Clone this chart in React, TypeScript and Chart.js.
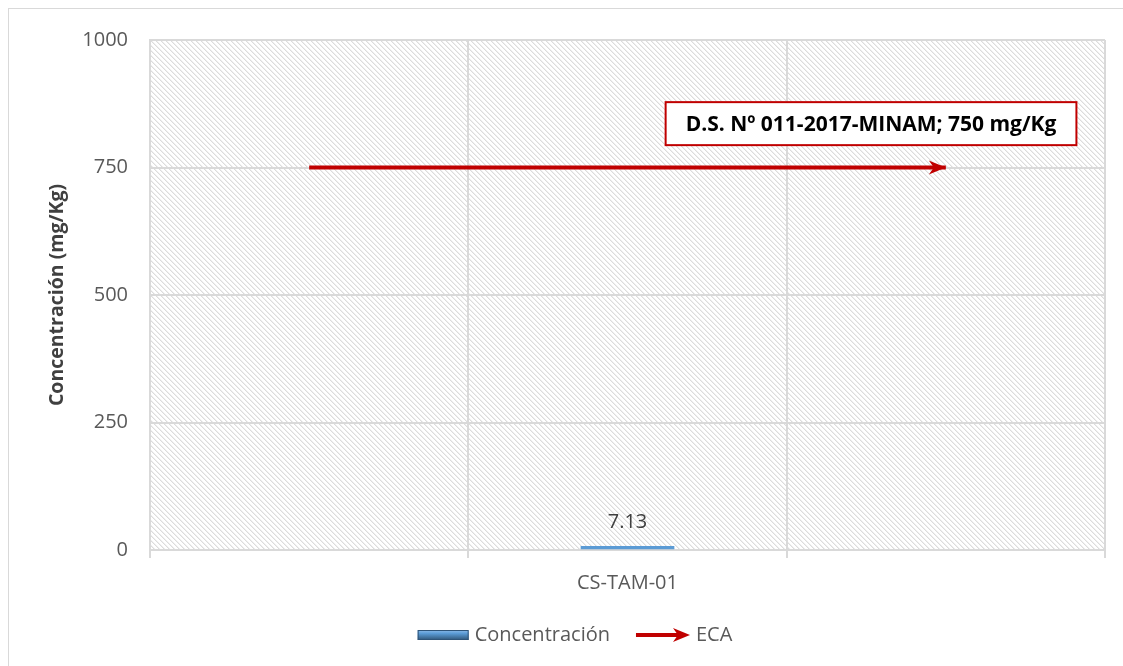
import React, { useEffect, useRef } from 'react';
import { Chart, registerables } from 'chart.js';

Chart.register(...registerables);

// ---- data ----
const categories = ['CS-TAM-01'];
const categoryPositions = [1.5];
const concentracion = [7.13];
const ecaValue = 750;
const ecaStart = 0.5;
const ecaEnd = 2.5;
const yTicks = [0, 250, 500, 750, 1000];
const xGridTicks = [0, 1, 2, 3];
const seriesNames = ['Concentración', 'ECA'];
const yTitle = 'Concentración (mg/Kg)';
const annotationText = 'D.S. Nº 011-2017-MINAM; 750 mg/Kg';
const annotationAnchor = { x: 2.265, y: 836 };

const FONT = "'Open Sans', 'DejaVu Sans', sans-serif";
const TEXT = '#595959';
const GRID = '#d9d9d9';
const BLUE = '#5B9BD5';
const RED = '#C00000';

function makeHatch(): HTMLCanvasElement {
  const c = document.createElement('canvas');
  c.width = 5;
  c.height = 5;
  const g = c.getContext('2d')!;
  g.fillStyle = '#ffffff';
  g.fillRect(0, 0, 5, 5);
  for (let i = 0; i < 5; i++) {
    g.fillStyle = '#dcdcdc';
    g.fillRect(i, i, 1, 1);
    g.fillStyle = '#efefef';
    g.fillRect((i + 1) % 5, i, 1, 1);
  }
  return c;
}

function drawArrowHead(ctx: CanvasRenderingContext2D, x: number, y: number, color: string, len = 17, half = 7) {
  ctx.save();
  ctx.fillStyle = color;
  ctx.beginPath();
  ctx.moveTo(x, y);
  ctx.lineTo(x - len, y - half);
  ctx.lineTo(x - len + 5, y);
  ctx.lineTo(x - len, y + half);
  ctx.closePath();
  ctx.fill();
  ctx.restore();
}

function barGradient(ctx: CanvasRenderingContext2D, y0: number, y1: number) {
  if (!isFinite(y0) || !isFinite(y1) || y0 === y1) return BLUE;
  const g = ctx.createLinearGradient(0, y0, 0, y1);
  g.addColorStop(0, '#8dbbe8');
  g.addColorStop(0.35, '#5b9bd5');
  g.addColorStop(0.75, '#41719c');
  g.addColorStop(1, '#2f5478');
  return g;
}

export default function App() {
  const ref = useRef<HTMLCanvasElement>(null);

  useEffect(() => {
    const canvas = ref.current!;
    const hatchTile = makeHatch();

    const framePlugin = {
      id: 'frame',
      beforeDraw(chart: any) {
        const { ctx, chartArea } = chart;
        ctx.save();
        ctx.fillStyle = '#ffffff';
        ctx.fillRect(0, 0, chart.width, chart.height);
        ctx.strokeStyle = GRID;
        ctx.lineWidth = 1;
        ctx.strokeRect(8.5, 8.5, 1134, 700);
        const pat = ctx.createPattern(hatchTile, 'repeat');
        ctx.fillStyle = pat;
        ctx.fillRect(chartArea.left, chartArea.top, chartArea.right - chartArea.left, chartArea.bottom - chartArea.top);
        ctx.restore();
      },
      afterDatasetsDraw(chart: any) {
        const { ctx } = chart;
        const lineMeta = chart.getDatasetMeta(1);
        const last = lineMeta.data[lineMeta.data.length - 1];
        if (last) drawArrowHead(ctx, last.x, last.y, RED);
        const barMeta = chart.getDatasetMeta(0);
        ctx.save();
        ctx.fillStyle = '#404040';
        ctx.font = `20px ${FONT}`;
        ctx.textAlign = 'center';
        ctx.textBaseline = 'alphabetic';
        barMeta.data.forEach((el: any, i: number) => {
          ctx.fillText(concentracion[i].toFixed(2), el.x, el.y - 18);
        });
        ctx.restore();
        const xs = chart.scales.x;
        const ys = chart.scales.y;
        const cx = xs.getPixelForValue(annotationAnchor.x);
        const cy = ys.getPixelForValue(annotationAnchor.y);
        ctx.save();
        ctx.font = `bold 21px ${FONT}`;
        const tw = ctx.measureText(annotationText).width;
        const w = tw + 40;
        const h = 43;
        ctx.fillStyle = '#ffffff';
        ctx.fillRect(cx - w / 2, cy - h / 2, w, h);
        ctx.strokeStyle = RED;
        ctx.lineWidth = 2;
        ctx.strokeRect(cx - w / 2, cy - h / 2, w, h);
        ctx.fillStyle = '#000000';
        ctx.textAlign = 'center';
        ctx.textBaseline = 'middle';
        ctx.fillText(annotationText, cx, cy + 1);
        ctx.restore();
      },
      afterDraw(chart: any) {
        const { ctx } = chart;
        ctx.save();
        ctx.font = `20px ${FONT}`;
        const sw = 51;
        const aw = 54;
        const gap = 6;
        const between = 26;
        const t0 = ctx.measureText(seriesNames[0]).width;
        const t1 = ctx.measureText(seriesNames[1]).width;
        const total = sw + gap + t0 + between + aw + gap + t1;
        const center = (8 + 1142) / 2;
        const y = 635;
        let x = center - total / 2;
        ctx.fillStyle = barGradient(ctx, y - 5, y + 5);
        ctx.fillRect(x, y - 5, sw, 10);
        ctx.strokeStyle = '#2f5478';
        ctx.lineWidth = 1;
        ctx.strokeRect(x + 0.5, y - 4.5, sw - 1, 9);
        x += sw + gap;
        ctx.fillStyle = TEXT;
        ctx.textAlign = 'left';
        ctx.textBaseline = 'middle';
        ctx.fillText(seriesNames[0], x, y);
        x += t0 + between;
        ctx.strokeStyle = RED;
        ctx.lineWidth = 4;
        ctx.beginPath();
        ctx.moveTo(x, y);
        ctx.lineTo(x + aw - 6, y);
        ctx.stroke();
        drawArrowHead(ctx, x + aw, y, RED);
        x += aw + gap;
        ctx.fillStyle = TEXT;
        ctx.fillText(seriesNames[1], x, y);
        ctx.restore();
      },
    };

    const chart = new Chart(canvas, {
      data: {
        datasets: [
          {
            type: 'bar',
            label: seriesNames[0],
            data: categoryPositions.map((p, i) => ({ x: p, y: concentracion[i] })),
            backgroundColor: (c: any) => {
              const { ctx } = c.chart;
              const el = c.element;
              if (!el) return BLUE;
              return barGradient(ctx, el.y, el.base);
            },
            borderWidth: 0,
            barThickness: 93,
          },
          {
            type: 'line',
            label: seriesNames[1],
            data: [
              { x: ecaStart, y: ecaValue },
              { x: ecaEnd, y: ecaValue },
            ],
            borderColor: RED,
            borderWidth: 4,
            pointRadius: 0,
            fill: false,
          },
        ],
      } as any,
      options: {
        responsive: false,
        animation: false,
        maintainAspectRatio: false,
        layout: { padding: { top: 40, right: 18, left: 0, bottom: 0 } },
        plugins: {
          legend: { display: false },
          tooltip: { enabled: false },
        },
        scales: {
          x: {
            type: 'linear',
            min: 0,
            max: 3,
            offset: false,
            afterBuildTicks: (s: any) => {
              s.ticks = [...xGridTicks, ...categoryPositions]
                .sort((a, b) => a - b)
                .map((v) => ({ value: v }));
            },
            afterFit: (s: any) => {
              s.height = 116;
            },
            ticks: {
              autoSkip: false,
              maxRotation: 0,
              color: TEXT,
              font: { family: FONT, size: 20 },
              padding: 13,
              callback: (v: any) => {
                const i = categoryPositions.indexOf(Number(v));
                return i >= 0 ? categories[i] : '';
              },
            },
            grid: {
              offset: false,
              color: (c: any) => (c.tick && categoryPositions.includes(c.tick.value) ? 'rgba(0,0,0,0)' : GRID),
              lineWidth: 2,
              tickLength: 8,
              drawTicks: true,
            },
            border: { color: GRID, width: 2 },
          },
          y: {
            type: 'linear',
            min: 0,
            max: 1000,
            afterBuildTicks: (s: any) => {
              s.ticks = yTicks.map((v) => ({ value: v }));
            },
            afterFit: (s: any) => {
              s.width = 150;
            },
            ticks: {
              color: TEXT,
              font: { family: FONT, size: 20 },
              padding: 22,
              callback: (v: any) => String(v),
            },
            grid: { color: GRID, lineWidth: 2, drawTicks: false },
            border: { color: GRID, width: 2 },
            title: {
              display: true,
              text: yTitle,
              color: '#404040',
              font: { family: FONT, size: 19.5, weight: 'bold' },
              padding: { top: 46, bottom: 0 },
            },
          },
        },
      } as any,
      plugins: [framePlugin],
    });
    return () => chart.destroy();
  }, []);

  return (
    <div style={{ position: 'fixed', left: 0, top: 0, width: 1123, height: 666 }}>
      <canvas ref={ref} width={1123} height={666} style={{ display: 'block', width: 1123, height: 666 }} />
    </div>
  );
}
